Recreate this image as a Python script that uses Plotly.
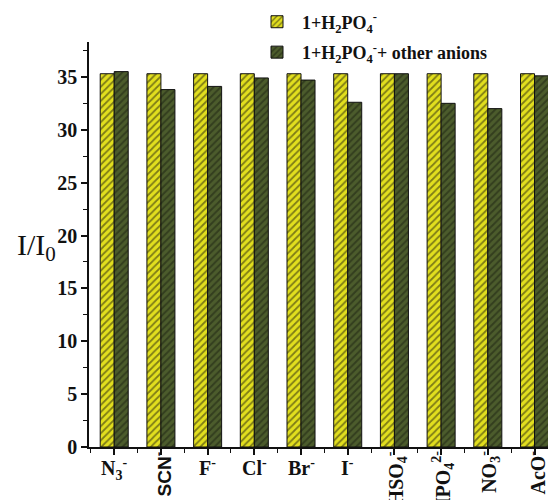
import plotly.graph_objects as go

categories = ["N<sub>3</sub><sup>-</sup>", "SCN<sup>-</sup>", "F<sup>-</sup>", "Cl<sup>-</sup>", "Br<sup>-</sup>",
              "I<sup>-</sup>", "HSO<sub>4</sub><sup>-</sup>", "HPO<sub>4</sub><sup>2-</sup>",
              "NO<sub>3</sub><sup>-</sup>", "AcO<sup>-</sup>"]
rotated = [False, True, False, False, False, False, True, True, True, True]
h2po4 = [35.3, 35.3, 35.3, 35.3, 35.3, 35.3, 35.3, 35.3, 35.3, 35.3]
h2po4_other = [35.5, 33.8, 34.1, 34.9, 34.7, 32.6, 35.3, 32.5, 32.0, 35.1]
y_ticks = [0, 5, 10, 15, 20, 25, 30, 35]

xs = list(range(len(categories)))
serif = "Liberation Serif"

fig = go.Figure()
fig.add_trace(go.Bar(
    x=xs, y=h2po4, name="1+H<sub>2</sub>PO<sub>4</sub><sup>-</sup>", legendgroup="a",
    marker=dict(color="#e2df1e", line=dict(color="#111111", width=1),
                pattern=dict(shape="/", fgcolor="#1a1a10", bgcolor="#e2df1e", size=5, solidity=0.35)),
))
fig.add_trace(go.Bar(
    x=xs, y=h2po4_other, name="1+H<sub>2</sub>PO<sub>4</sub><sup>-</sup>+ other anions", legendgroup="b",
    marker=dict(color="#44522a", line=dict(color="#111111", width=1),
                pattern=dict(shape="/", fgcolor="#1a1f10", bgcolor="#4c5c2c", size=5, solidity=0.4)),
))

for i, (lab, rot) in enumerate(zip(categories, rotated)):
    fam = "Liberation Sans" if lab.startswith("SCN") else serif
    if rot:
        fig.add_annotation(x=i, y=0, xref="x", yref="paper", text="<b>" + lab + "</b>",
                           textangle=-90, showarrow=False, xanchor="center", yanchor="top",
                           xshift=2, yshift=-2,
                           font=dict(family=fam, size=20 if fam == serif else 19, color="#111111"))
    else:
        fig.add_annotation(x=i, y=0, xref="x", yref="paper", text="<b>" + lab + "</b>",
                           showarrow=False, xanchor="center", yanchor="top", yshift=-6,
                           font=dict(family=serif, size=20, color="#111111"))

fig.add_annotation(x=(36 - 89) / 467, y=(447 - 247) / 405, xref="paper", yref="paper",
                   text="I/I<sub>0</sub>", showarrow=False, xanchor="center", yanchor="middle",
                   font=dict(family=serif, size=30, color="#111111"))

fig.update_layout(
    width=556, height=500,
    margin=dict(l=81, r=8, t=34, b=61, autoexpand=False),
    paper_bgcolor="white", plot_bgcolor="white",
    barmode="group", bargap=0.4, bargroupgap=0,
    showlegend=True,
    legend=dict(x=(252 - 89) / 467, y=1.095,
                xanchor="left", yanchor="top", bgcolor="rgba(0,0,0,0)",
                font=dict(family=serif, size=18, color="#111111", weight="bold"),
                itemwidth=40, tracegroupgap=4),
    xaxis=dict(range=[-0.54, 9.46], tickmode="array", tickvals=xs, showticklabels=False,
               ticks="outside", ticklen=6, tickwidth=1.5, tickcolor="#111111",
               showline=True, linecolor="#111111", linewidth=1.5, showgrid=False, zeroline=False,
               minor=dict(tickmode="array", tickvals=[x + 0.5 for x in xs[:-1]] + [-0.5],
                          ticks="outside", ticklen=4, tickwidth=1.2, tickcolor="#111111")),
    yaxis=dict(range=[0, 38.3], tickmode="array", tickvals=y_ticks,
               ticktext=["<b>%d</b>" % v for v in y_ticks],
               tickfont=dict(family=serif, size=20, color="#111111"),
               ticks="outside", ticklen=6, tickwidth=1.5, tickcolor="#111111",
               showline=True, linecolor="#111111", linewidth=1.5, showgrid=False, zeroline=False,
               minor=dict(tickmode="array", tickvals=[v + 2.5 for v in y_ticks],
                          ticks="outside", ticklen=4, tickwidth=1.2, tickcolor="#111111")),
)

fig.write_html("out.html")
